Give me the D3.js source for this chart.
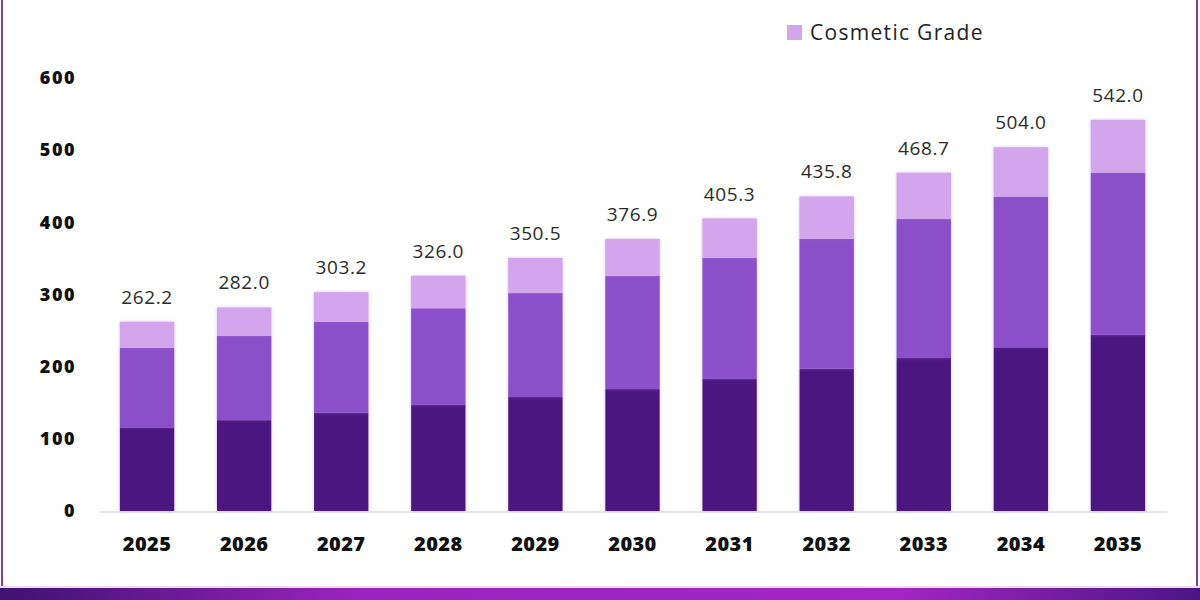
<!DOCTYPE html>
<html>
<head>
<meta charset="utf-8">
<script src="https://cdn.jsdelivr.net/npm/d3@7"></script>
<style>
  body { margin: 0; background: #fff; }
  svg { display: block; }
</style>
</head>
<body>
<div id="chart"></div>
<script>
// datos
var years = ["2025", "2026", "2027", "2028", "2029", "2030", "2031", "2032", "2033", "2034", "2035"];
var totals = [262.2, 282.0, 303.2, 326.0, 350.5, 376.9, 405.3, 435.8, 468.7, 504.0, 542.0];
var seriesNames = ["Pharmaceutical Grade", "Food Grade", "Cosmetic Grade"];
var pharmaGrade = [116, 126, 136, 147, 158, 169, 183, 197, 212, 227, 244];
var foodGrade = [110, 116.5, 126, 134, 144, 156.6, 167.6, 180, 192.6, 208.7, 224.9];
var cosmeticGrade = [36.2, 39.5, 41.2, 45.0, 48.5, 51.3, 54.7, 58.8, 64.1, 68.3, 73.1];
var yTicks = [0, 100, 200, 300, 400, 500, 600];

var colors = ["#4b1780", "#8b4fca", "#d2a5ec"];

var svg_w = 1200;
var svg_h = 600;

var svg = d3.select("#chart")
  .append("svg")
  .attr("width", svg_w)
  .attr("height", svg_h);

// degradado de la franja inferior
var defs = svg.append("defs");
var grad = defs.append("linearGradient").attr("id", "band");
grad.append("stop").attr("offset", "0%").attr("stop-color", "#3e1272");
grad.append("stop").attr("offset", "30%").attr("stop-color", "#9a24bd");
grad.append("stop").attr("offset", "75%").attr("stop-color", "#a226c2");
grad.append("stop").attr("offset", "100%").attr("stop-color", "#4a1585");

var shadow = defs.append("filter").attr("id", "soft")
  .attr("x", "-10%").attr("y", "-10%").attr("width", "120%").attr("height", "120%");
shadow.append("feDropShadow")
  .attr("dx", 0).attr("dy", 0).attr("stdDeviation", 1.5)
  .attr("flood-color", "#b070e0").attr("flood-opacity", 0.5);

// marco
svg.append("line").attr("x1", 2).attr("x2", 2).attr("y1", 0).attr("y2", 588)
  .attr("stroke", "#7d3f9c").attr("stroke-width", 2);
svg.append("line").attr("x1", 1197).attr("x2", 1197).attr("y1", 0).attr("y2", 588)
  .attr("stroke", "#7d3f9c").attr("stroke-width", 2);
svg.append("rect").attr("x", 0).attr("y", 586).attr("width", svg_w).attr("height", 2)
  .attr("fill", "#f2dcf2");
svg.append("rect").attr("x", 0).attr("y", 588).attr("width", svg_w).attr("height", 12)
  .attr("fill", "url(#band)");

// escalas
var x = d3.scaleBand()
  .domain(years)
  .range([98.5, 1166.5])
  .paddingInner(0.44)
  .paddingOuter(0.22);

var y = d3.scaleLinear()
  .domain([0, 600])
  .range([511, 78]);

var table = years.map(function(yr, i) {
  return {
    year: yr,
    "Pharmaceutical Grade": pharmaGrade[i],
    "Food Grade": foodGrade[i],
    "Cosmetic Grade": cosmeticGrade[i]
  };
});

var stacked = d3.stack().keys(seriesNames)(table);

// linea base
svg.append("line")
  .attr("x1", 100).attr("x2", 1167)
  .attr("y1", y(0) + 1).attr("y2", y(0) + 1)
  .attr("stroke", "#cfcfcf").attr("stroke-width", 1.2);

// barras apiladas
var layers = svg.selectAll("g.layer")
  .data(stacked)
  .enter()
  .append("g")
  .attr("class", "layer")
  .attr("fill", function(d, i) { return colors[i]; })
  .attr("filter", "url(#soft)");

layers.selectAll("rect")
  .data(function(d) { return d; })
  .enter()
  .append("rect")
  .attr("x", function(d) { return x(d.data.year); })
  .attr("width", x.bandwidth())
  .attr("y", function(d) { return y(d[1]); })
  .attr("height", function(d) { return y(d[0]) - y(d[1]); });

// etiquetas de totales
svg.selectAll("text.total")
  .data(totals)
  .enter()
  .append("text")
  .attr("class", "total")
  .attr("x", function(d, i) { return x(years[i]) + x.bandwidth() / 2; })
  .attr("y", function(d) { return y(d) - 18; })
  .attr("text-anchor", "middle")
  .attr("font-family", "Open Sans, sans-serif")
  .attr("font-size", 19)
  .attr("letter-spacing", 0.6)
  .attr("fill", "#2b2b2b")
  .text(function(d) { return d.toFixed(1); });

// eje x (solo etiquetas)
var xAxis = svg.append("g")
  .attr("transform", "translate(0," + 537 + ")")
  .call(d3.axisBottom(x).tickSize(0).tickPadding(0));
xAxis.select(".domain").remove();
xAxis.selectAll("text")
  .attr("dy", "0.71em")
  .attr("font-family", "Open Sans, sans-serif")
  .attr("font-weight", 800)
  .attr("font-size", 20)
  .attr("letter-spacing", 0.4)
  .attr("fill", "#111");

// eje y (solo etiquetas)
var yAxis = svg.append("g")
  .attr("transform", "translate(76,0)")
  .call(d3.axisLeft(y).tickValues(yTicks).tickSize(0).tickPadding(0));
yAxis.select(".domain").remove();
yAxis.selectAll("text")
  .attr("font-family", "Open Sans, sans-serif")
  .attr("font-weight", 800)
  .attr("font-size", 18)
  .attr("letter-spacing", 1.5)
  .attr("fill", "#111");

// leyenda (solo la entrada visible)
var legend = svg.append("g").attr("transform", "translate(787,25)");
legend.append("rect")
  .attr("width", 15).attr("height", 15)
  .attr("fill", colors[2]);
legend.append("text")
  .attr("x", 23).attr("y", 15)
  .attr("font-family", "Open Sans, sans-serif")
  .attr("font-size", 21)
  .attr("letter-spacing", 1.3)
  .attr("fill", "#222")
  .text(seriesNames[2]);
</script>
</body>
</html>
